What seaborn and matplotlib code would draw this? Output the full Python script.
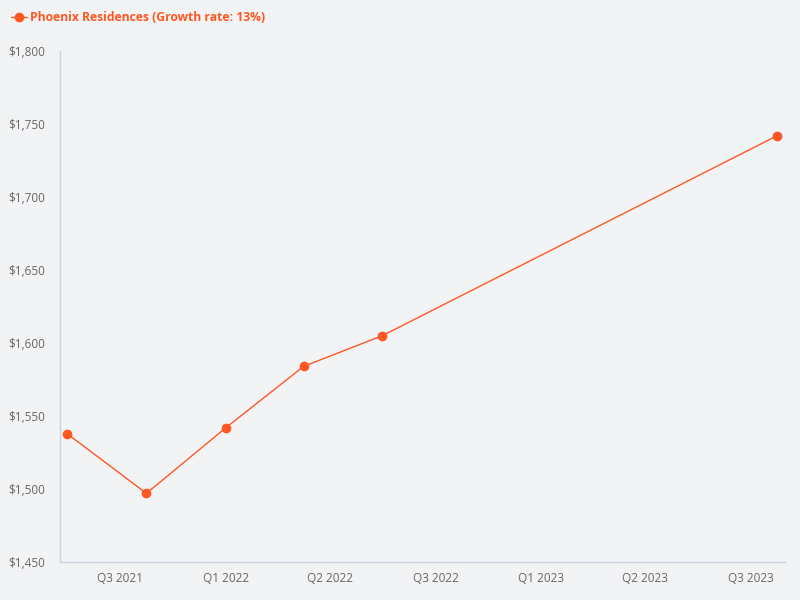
import numpy as np
import pandas as pd
import matplotlib
matplotlib.use("Agg")
import matplotlib.pyplot as plt
import matplotlib.dates as mdates
import matplotlib.ticker as mticker
import seaborn as sns

# data
dates = ["2021-07-01", "2021-10-01", "2022-01-01", "2022-04-01", "2022-07-01", "2023-10-01"]
rents = [1538, 1497, 1542, 1584, 1605, 1742]
series_name = "Phoenix Residences (Growth rate: 13%)"

BG = "#f2f3f5"
LINE = "#ff5722"
AXIS = "#c9d4e2"
TXT = "#666666"

sns.set_theme(style="white")
plt.rcParams.update({
    "font.family": ["Open Sans", "DejaVu Sans"],
    "figure.facecolor": BG,
    "axes.facecolor": BG,
})

df = pd.DataFrame({"date": pd.to_datetime(dates), "rent": rents})

fig = plt.figure(figsize=(8, 6), dpi=100)
ax = fig.add_axes([60 / 800, 1 - 562 / 600, 725 / 800, 511 / 600])

sns.lineplot(data=df, x="date", y="rent", ax=ax, color=LINE, linewidth=1,
             marker="o", markersize=7, markeredgewidth=0, label=series_name)

ax.set_xlim(pd.Timestamp("2021-06-23"), pd.Timestamp("2023-10-10"))
ax.set_ylim(1450, 1800)
ax.yaxis.set_major_locator(mticker.MultipleLocator(50))
ax.yaxis.set_major_formatter(mticker.FuncFormatter(lambda v, _: f"${v:,.0f}"))

ax.xaxis.set_major_locator(mdates.MonthLocator(bymonth=[1, 5, 9]))
ax.xaxis.set_major_formatter(mticker.FuncFormatter(
    lambda v, _: f"Q{(mdates.num2date(v).month - 1) // 3 + 1} {mdates.num2date(v).year}"))

ax.set_xlabel("")
ax.set_ylabel("")
ax.tick_params(axis="both", length=0, labelsize=8.5, colors=TXT)
ax.tick_params(axis="x", pad=7)
ax.tick_params(axis="y", pad=11)

sns.despine(ax=ax)
for side in ["left", "bottom"]:
    ax.spines[side].set_color(AXIS)
    ax.spines[side].set_linewidth(1)
ax.grid(False)

leg = ax.legend(loc="upper left", bbox_to_anchor=(0.0, 1.0), bbox_transform=fig.transFigure,
                frameon=False, handlelength=1.3, handletextpad=0.3,
                prop={"weight": "bold", "size": 8.7})
for t in leg.get_texts():
    t.set_color(LINE)

fig.savefig("out.png", dpi=100, facecolor=BG)
